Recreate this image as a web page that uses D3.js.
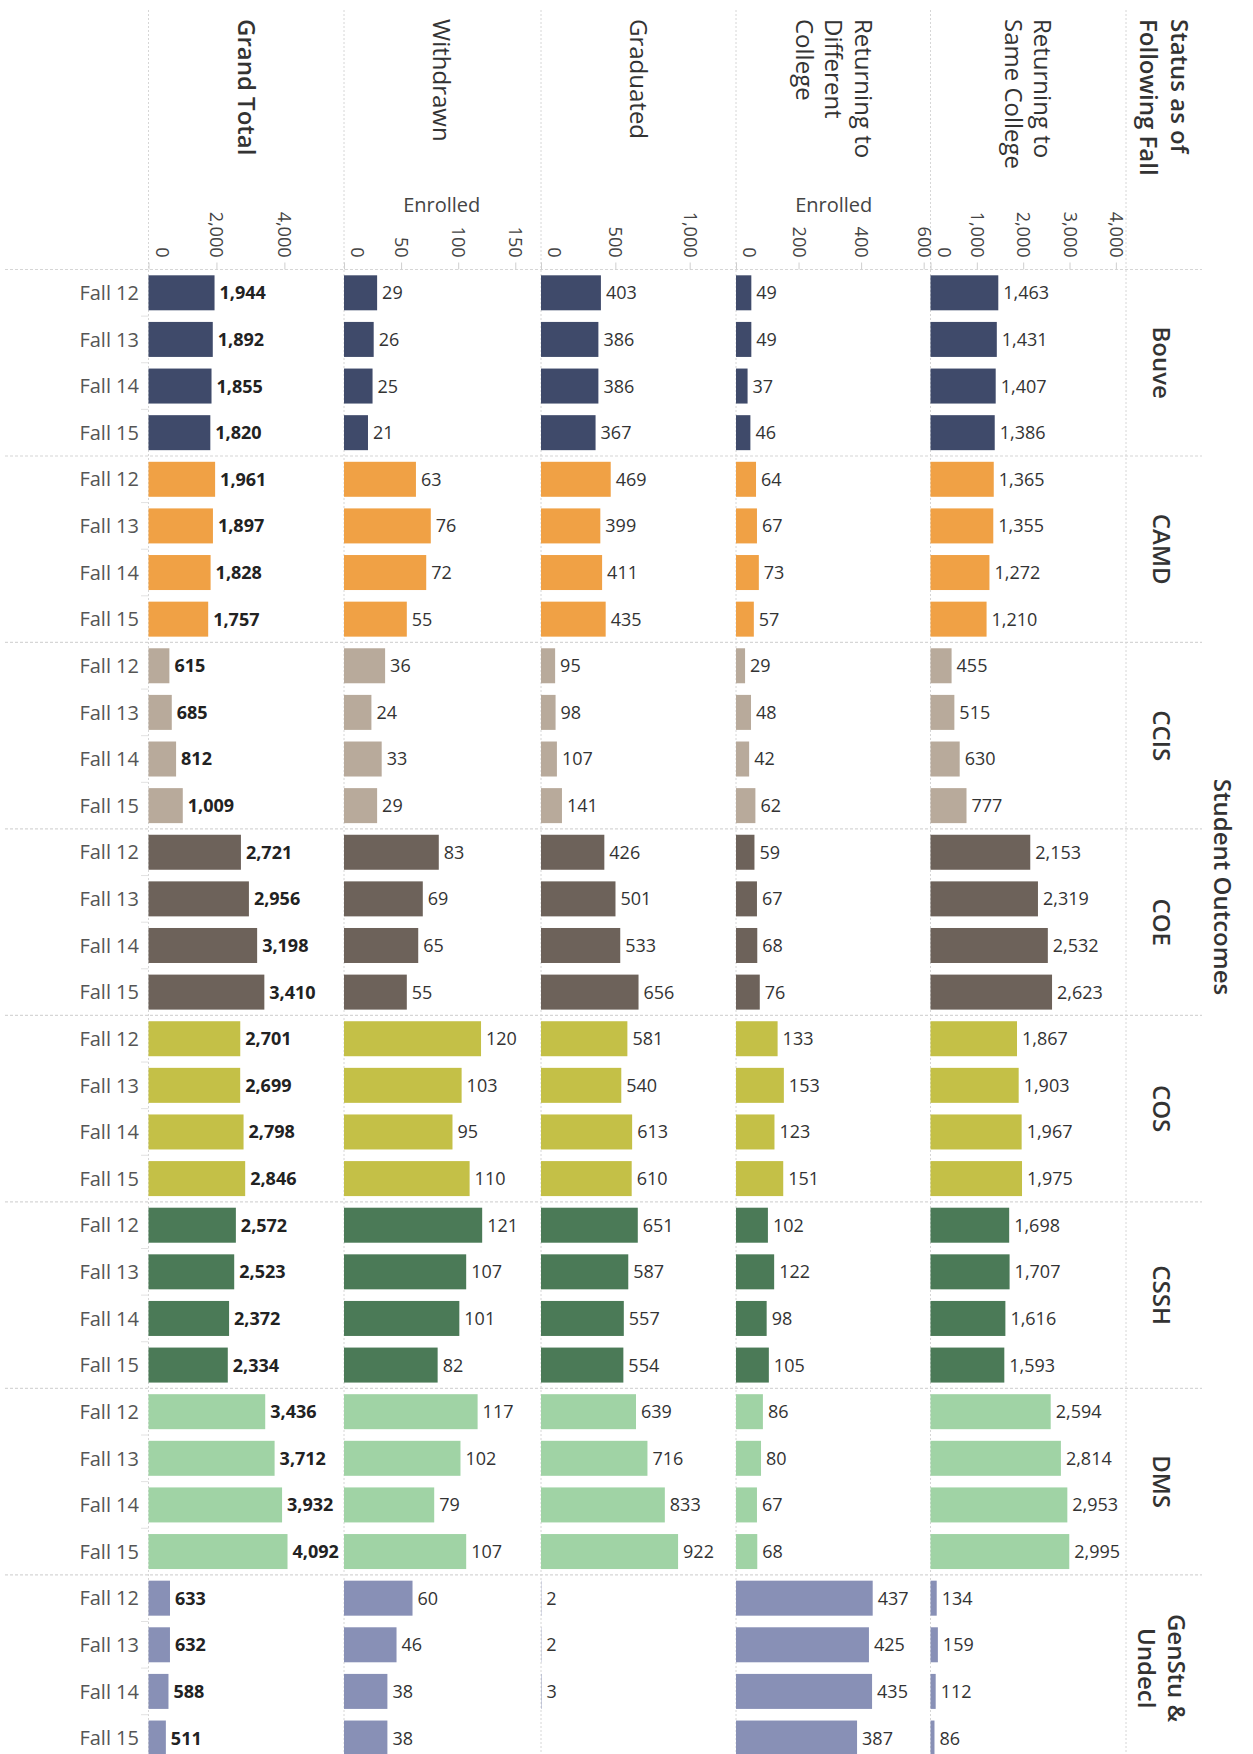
<!DOCTYPE html>
<html>
<head>
<meta charset="utf-8">
<script src="https://cdn.jsdelivr.net/npm/d3@7/dist/d3.min.js"></script>
<style>
  html, body { margin: 0; padding: 0; background: #ffffff; }
  svg { display: block; font-family: "Open Sans", "Noto Sans", sans-serif; }
</style>
</head>
<body>
<svg id="chart" width="1253" height="1754"></svg>
<script>
// ---------------- DATA ----------------
const colleges = ["Bouve", "CAMD", "CCIS", "COE", "COS", "CSSH", "DMS", "GenStu & Undecl"];
const terms = ["Fall 12", "Fall 13", "Fall 14", "Fall 15"];
const collegeColors = ["#3f4a6a", "#f0a145", "#b8aa9b", "#6d625a", "#c4c047", "#4b7a57", "#a0d3a5", "#8890b6"];

const measureNames = ["Grand Total", "Withdrawn", "Graduated", "Returning to Different College", "Returning to Same College"];
const measureHeaderLines = [["Grand Total"], ["Withdrawn"], ["Graduated"], ["Returning to", "Different", "College"], ["Returning to", "Same College"]];

const grandTotal = [1944, 1892, 1855, 1820, 1961, 1897, 1828, 1757, 615, 685, 812, 1009, 2721, 2956, 3198, 3410,
                    2701, 2699, 2798, 2846, 2572, 2523, 2372, 2334, 3436, 3712, 3932, 4092, 633, 632, 588, 511];
const withdrawn = [29, 26, 25, 21, 63, 76, 72, 55, 36, 24, 33, 29, 83, 69, 65, 55,
                   120, 103, 95, 110, 121, 107, 101, 82, 117, 102, 79, 107, 60, 46, 38, 38];
const graduated = [403, 386, 386, 367, 469, 399, 411, 435, 95, 98, 107, 141, 426, 501, 533, 656,
                   581, 540, 613, 610, 651, 587, 557, 554, 639, 716, 833, 922, 2, 2, 3, null];
const returningDifferent = [49, 49, 37, 46, 64, 67, 73, 57, 29, 48, 42, 62, 59, 67, 68, 76,
                            133, 153, 123, 151, 102, 122, 98, 105, 86, 80, 67, 68, 437, 425, 435, 387];
const returningSame = [1463, 1431, 1407, 1386, 1365, 1355, 1272, 1210, 455, 515, 630, 777, 2153, 2319, 2532, 2623,
                       1867, 1903, 1967, 1975, 1698, 1707, 1616, 1593, 2594, 2814, 2953, 2995, 134, 159, 112, 86];

const measureValues = [grandTotal, withdrawn, graduated, returningDifferent, returningSame];
const measureDomainMax = [5755, 171.2, 1315, 625, 4219];
const tickValuesGrand = [0, 2000, 4000];
const tickValuesWithdrawn = [0, 50, 100, 150];
const tickValuesGraduated = [0, 500, 1000];
const tickValuesDifferent = [0, 200, 400, 600];
const tickValuesSame = [0, 1000, 2000, 3000, 4000];
const measureTicks = [tickValuesGrand, tickValuesWithdrawn, tickValuesGraduated, tickValuesDifferent, tickValuesSame];
const axisTitles = [null, "Enrolled", null, "Enrolled", null];

const rowHeaderTitle = ["Status as of", "Following Fall"];
const sideTitle = "Student Outcomes";

// ---------------- LAYOUT ----------------
const W = 1253, H = 1754;
const colEdges = [148.5, 344, 541, 736, 930.5, 1126];
const colW = 195.5;
const headerBottom = 269.5;
const rowH = 46.62;
const barH = 35;
const gridColor = "#d6d6d6";

const svg = d3.select("#chart");

// rows
const rows = [];
colleges.forEach((c, ci) => terms.forEach((t, ti) => rows.push({college: c, ci, term: t, idx: ci * 4 + ti})));

const yBand = d3.scaleBand()
  .domain(d3.range(rows.length))
  .range([headerBottom, headerBottom + rowH * rows.length])
  .paddingInner(0).paddingOuter(0);

// grid: vertical column boundaries
svg.append("g").selectAll("line").data(colEdges).join("line")
  .attr("x1", d => d).attr("x2", d => d)
  .attr("y1", 10).attr("y2", H)
  .attr("stroke", gridColor).attr("stroke-width", 1)
  .attr("stroke-dasharray", "2,2");

// horizontal separators (header bottom + group boundaries)
const sepYs = d3.range(0, colleges.length).map(i => yBand(i * 4));
svg.append("g").selectAll("line").data(sepYs).join("line")
  .attr("x1", 5).attr("x2", 1202)
  .attr("y1", d => d).attr("y2", d => d)
  .attr("stroke", gridColor).attr("stroke-width", 1.2)
  .attr("stroke-dasharray", "3,2");

// faint row ticks along left
svg.append("g").selectAll("line").data(rows.filter(r => r.idx % 4 !== 0)).join("line")
  .attr("x1", 141).attr("x2", 148.5)
  .attr("y1", r => yBand(r.idx)).attr("y2", r => yBand(r.idx))
  .attr("stroke", "#e2e2e2").attr("stroke-width", 1);

// column headers
measureHeaderLines.forEach((lines, mi) => {
  const cx = colEdges[mi] + colW / 2;
  const n = lines.length;
  const lh = 29.5;
  lines.forEach((ln, li) => {
    const x = cx + ((n - 1) / 2 - li) * lh;
    svg.append("text")
      .attr("transform", `translate(${x},19) rotate(90)`)
      .attr("dy", "0.36em")
      .attr("text-anchor", "start")
      .attr("font-size", 24)
      .attr("font-weight", mi === 0 ? 600 : 400)
      .attr("fill", "#333")
      .text(ln);
  });
});

// row header title
rowHeaderTitle.forEach((ln, li) => {
  const x = 1164 + ((rowHeaderTitle.length - 1) / 2 - li) * 31;
  svg.append("text")
    .attr("transform", `translate(${x},19) rotate(90)`)
    .attr("dy", "0.36em")
    .attr("font-size", 24)
    .attr("font-weight", 600)
    .attr("fill", "#333")
    .text(ln);
});

// scales, axes, bars, labels
measureValues.forEach((vals, mi) => {
  const x0 = colEdges[mi];
  const xs = d3.scaleLinear().domain([0, measureDomainMax[mi]]).range([x0, x0 + colW]);

  // axis
  const axis = d3.axisTop(xs).tickValues(measureTicks[mi]).tickFormat(d3.format(",")).tickSize(7).tickSizeOuter(0);
  const g = svg.append("g").attr("transform", `translate(0,${headerBottom})`).call(axis);
  g.select(".domain").remove();
  g.selectAll(".tick line").attr("stroke", "#cfcfcf");
  g.selectAll(".tick text")
    .attr("x", null).attr("y", null).attr("dy", "0.36em")
    .attr("transform", d => `translate(${d === 0 ? 13 : 0},-12) rotate(90)`)
    .attr("text-anchor", "end")
    .attr("font-family", "Open Sans, sans-serif")
    .attr("font-size", 18)
    .attr("fill", "#444");

  if (axisTitles[mi]) {
    svg.append("text")
      .attr("x", x0 + colW / 2).attr("y", 212)
      .attr("text-anchor", "middle")
      .attr("font-size", 20)
      .attr("fill", "#444")
      .text(axisTitles[mi]);
  }

  const data = rows.map(r => ({...r, v: vals[r.idx]})).filter(d => d.v !== null && d.v !== undefined);

  svg.append("g").selectAll("rect").data(data).join("rect")
    .attr("x", xs(0))
    .attr("y", d => yBand(d.idx) + (rowH - barH) / 2)
    .attr("width", d => Math.max(0, xs(d.v) - xs(0)))
    .attr("height", barH)
    .attr("fill", d => collegeColors[d.ci]);

  svg.append("g").selectAll("text").data(data).join("text")
    .attr("x", d => xs(d.v) + 5)
    .attr("y", d => yBand(d.idx) + rowH / 2)
    .attr("dy", "0.36em")
    .attr("font-size", 18)
    .attr("font-weight", mi === 0 ? 700 : 400)
    .attr("fill", mi === 0 ? "#222" : "#333")
    .text(d => d3.format(",")(d.v));
});

// row labels
svg.append("g").selectAll("text").data(rows).join("text")
  .attr("x", 139)
  .attr("y", r => yBand(r.idx) + rowH / 2)
  .attr("dy", "0.36em")
  .attr("text-anchor", "end")
  .attr("font-size", 20)
  .attr("fill", "#555")
  .text(r => r.term);

// college labels (rotated)
colleges.forEach((c, ci) => {
  const yc = yBand(ci * 4) + rowH * 2;
  const lines = c === "GenStu & Undecl" ? ["GenStu &", "Undecl"] : [c];
  lines.forEach((ln, li) => {
    const x = 1162 + ((lines.length - 1) / 2 - li) * 30;
    svg.append("text")
      .attr("transform", `translate(${x},${yc}) rotate(90)`)
      .attr("dy", "0.36em")
      .attr("text-anchor", "middle")
      .attr("font-size", 24)
      .attr("font-weight", 600)
      .attr("fill", "#333")
      .text(ln);
  });
});

// side title
svg.append("text")
  .attr("transform", `translate(1223,887) rotate(90)`)
  .attr("dy", "0.36em")
  .attr("text-anchor", "middle")
  .attr("font-size", 24)
  .attr("font-weight", 600)
  .attr("fill", "#333")
  .text(sideTitle);
</script>
</body>
</html>
